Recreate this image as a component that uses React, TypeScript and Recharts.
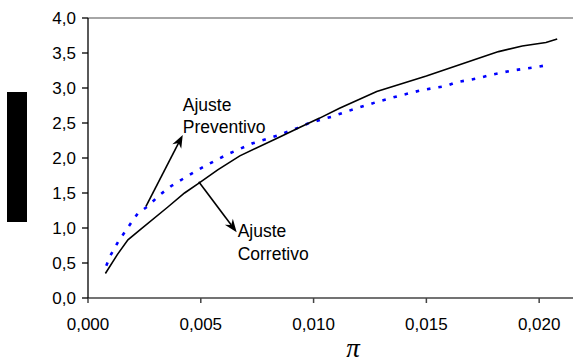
import { LineChart, Line, XAxis, YAxis, ReferenceLine } from 'recharts';

// pi values (x) and adjustment values (y)
const corretivoX = [0.00077, 0.0013, 0.00177, 0.00229, 0.00354, 0.00428, 0.00487, 0.00575, 0.00673, 0.0085, 0.0094, 0.01027, 0.01115, 0.0128, 0.015, 0.01735, 0.0182, 0.01925, 0.0203, 0.0208];
const corretivoY = [0.35, 0.62, 0.83, 0.97, 1.3, 1.5, 1.63, 1.83, 2.03, 2.3, 2.44, 2.57, 2.71, 2.95, 3.17, 3.43, 3.52, 3.6, 3.65, 3.7];

const preventivoX = [0.00081, 0.001, 0.00133, 0.00184, 0.00221, 0.00265, 0.00317, 0.00369, 0.0042, 0.00472, 0.00516, 0.0058, 0.0063, 0.0073, 0.0084, 0.0093, 0.0098, 0.0108, 0.0118, 0.0128, 0.0138, 0.0148, 0.0159, 0.0163, 0.0173, 0.0179, 0.0188, 0.0199, 0.0204];
const preventivoY = [0.46, 0.61, 0.8, 1.04, 1.21, 1.31, 1.47, 1.6, 1.7, 1.8, 1.88, 1.99, 2.07, 2.21, 2.32, 2.43, 2.5, 2.59, 2.7, 2.8, 2.89, 2.97, 3.03, 3.08, 3.14, 3.19, 3.25, 3.3, 3.33];

const xTicks = [0, 0.005, 0.01, 0.015, 0.02];
const yTicks = [0, 0.5, 1, 1.5, 2, 2.5, 3, 3.5, 4];

// annotation arrows: start point on the curve, tip near the text
const preventivoArrow = [{ x: 0.00257, y: 1.31 }, { x: 0.0042, y: 2.33 }];
const corretivoArrow = [{ x: 0.00491, y: 1.66 }, { x: 0.00659, y: 0.94 }];
const preventivoText = ['Ajuste', 'Preventivo'];
const corretivoText = ['Ajuste', 'Corretivo'];

const corretivo = corretivoX.map((x, i) => ({ x, y: corretivoY[i] }));
const preventivo = preventivoX.map((x, i) => ({ x, y: preventivoY[i] }));

const font = '"Liberation Sans", Arial, sans-serif';

const fmtX = (v: number) => v.toFixed(3).replace('.', ',');
const fmtY = (v: number) => v.toFixed(1).replace('.', ',');

const makeArrow = (lines: string[], dx: number, dys: number[]) => (props: any) => {
  const { x1, y1, x2, y2 } = props;
  const ang = Math.atan2(y2 - y1, x2 - x1);
  const len = 13;
  const half = 5;
  const bx = x2 - len * Math.cos(ang);
  const by = y2 - len * Math.sin(ang);
  const nx = x2 - (len - 4) * Math.cos(ang);
  const ny = y2 - (len - 4) * Math.sin(ang);
  const px = -Math.sin(ang) * half;
  const py = Math.cos(ang) * half;
  return (
    <g>
      <line x1={x1} y1={y1} x2={nx} y2={ny} stroke="#000" strokeWidth={1.6} />
      <polygon points={`${x2},${y2} ${bx + px},${by + py} ${nx},${ny} ${bx - px},${by - py}`} fill="#000" />
      {lines.map((t, i) => (
        <text key={t} x={x2 + dx} y={y2 + dys[i]} fontSize={17.5} fontFamily={font} fill="#000">{t}</text>
      ))}
    </g>
  );
};

export default function App() {
  return (
    <div style={{ position: 'absolute', left: 0, top: 0, width: 573, height: 363, background: '#fff' }}>
      <LineChart width={573} height={363} margin={{ top: 18, right: 0, left: 0, bottom: 0 }}>
        <XAxis
          type="number"
          dataKey="x"
          domain={[0, 0.0215]}
          ticks={xTicks}
          tickFormatter={fmtX}
          allowDataOverflow
          height={65}
          stroke="#444"
          strokeWidth={1.5}
          tickSize={5}
          tickMargin={15}
          tick={{ fill: '#000', fontSize: 17, fontFamily: font }}
          label={{
            content: () => (
              <text x={353} y={357} textAnchor="middle" fontSize={27} fontStyle="italic" fontFamily='"Liberation Serif", "Times New Roman", serif' fill="#000">π</text>
            ),
          }}
        />
        <YAxis
          type="number"
          dataKey="y"
          domain={[0, 4]}
          ticks={yTicks}
          tickFormatter={fmtY}
          width={88}
          stroke="#000"
          strokeWidth={1.3}
          tickSize={6}
          tickMargin={6}
          tick={{ fill: '#000', fontSize: 17, fontFamily: font }}
          label={{
            content: () => <rect x={7} y={92} width={20} height={130} fill="#000" />,
          }}
        />
        <ReferenceLine y={4} stroke="#888" strokeWidth={1.5} />
        <Line
          data={preventivo}
          dataKey="y"
          type="linear"
          stroke="#0000ff"
          strokeWidth={2.6}
          strokeDasharray="3.5 8"
          dot={false}
          isAnimationActive={false}
        />
        <Line
          data={corretivo}
          dataKey="y"
          type="linear"
          stroke="#000"
          strokeWidth={1.6}
          dot={false}
          isAnimationActive={false}
        />
        <ReferenceLine segment={preventivoArrow} shape={makeArrow(preventivoText, 0, [-24, -2])} />
        <ReferenceLine segment={corretivoArrow} shape={makeArrow(corretivoText, 1, [5, 28])} />
      </LineChart>
    </div>
  );
}
